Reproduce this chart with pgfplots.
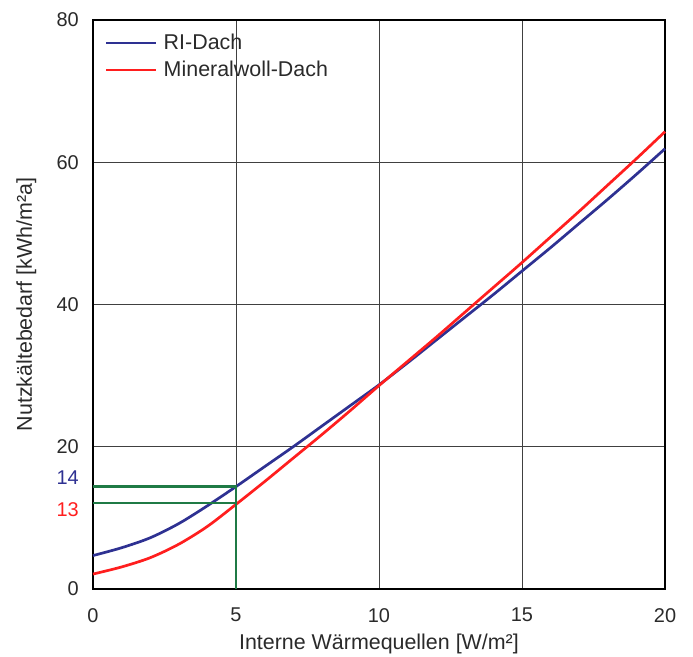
\documentclass[border=0pt]{standalone}
\usepackage{pgfplots}
\pgfplotsset{compat=1.18}
\usepackage{fontspec}
\setmainfont{Liberation Sans}
\definecolor{cblue}{HTML}{2E3192}
\definecolor{cred}{HTML}{FF1E1E}
\definecolor{cgreen}{HTML}{1F7A45}
\definecolor{ctext}{HTML}{2A2A2A}
\begin{document}
\begin{tikzpicture}
\begin{axis}[
  name=ax,
  scale only axis,
  clip=false,
  width=572bp, height=569bp,
  xmin=0, xmax=20, ymin=0, ymax=80,
  xtick={0,5,10,15,20}, ytick={0,20,40,60,80},
  grid=major,
  major grid style={black!75, line width=0.8bp},
  axis line style={black, line width=1.6bp},
  major tick length=0pt,
  tick label style={font=\fontsize{20}{24}\selectfont, text=ctext},
  /pgf/number format/assume math mode=true,
  yticklabel style={inner sep=0pt, xshift=-14bp},
  xticklabel style={inner sep=0pt, yshift=-19bp},
  xlabel={Interne Wärmequellen [W/m²]},
  ylabel={Nutzkältebedarf [kWh/m²a]},
  label style={font=\fontsize{21.5}{24}\selectfont, text=ctext},
  xlabel style={at={(axis description cs:0.5,0)}, anchor=base, yshift=-60bp},
  ylabel style={at={(axis description cs:0,0.5)}, anchor=base, yshift=61bp},
  legend style={draw=none, fill=none, at={(axis description cs:0,1)}, anchor=north west,
    xshift=12bp, yshift=-14bp, inner sep=0pt,
    font=\fontsize{21.5}{24}\selectfont, text=ctext, row sep=10bp,
    nodes={inner sep=0pt}},
  legend cell align=left,
  legend image code/.code={\draw[#1, line width=2.4bp] (0bp,0bp) -- (50bp,0bp); \path (56bp,0bp);},
]
\addplot[cblue, line width=2.7bp, smooth] coordinates {
(0,4.7)(1,5.8)(2,7.2)(3,9.2)(4,11.7)(5,14.4)(6,17.2)(7,20.0)(8,22.9)(9,25.8)(10,28.7)
(11,31.8)(12,35.0)(13,38.2)(14,41.4)(15,44.7)(16,48.0)(17,51.4)(18,54.8)(19,58.3)(20,61.9)};
\addlegendentry{RI-Dach}
\addplot[cred, line width=2.7bp, smooth] coordinates {
(0,2.1)(1,3.1)(2,4.4)(3,6.3)(4,8.8)(5,11.9)(6,15.1)(7,18.4)(8,21.7)(9,25.1)(10,28.6)
(11,32.0)(12,35.4)(13,38.9)(14,42.4)(15,45.9)(16,49.5)(17,53.1)(18,56.8)(19,60.5)(20,64.3)};
\addlegendentry{Mineralwoll-Dach}
\addplot[cgreen, line width=2.6bp, forget plot] coordinates {(0,14.4)(5,14.4)(5,0)};
\addplot[cgreen, line width=2.6bp, forget plot] coordinates {(0,12.1)(5,12.1)};
\node[anchor=east, inner sep=0pt, text=cblue, font=\fontsize{20}{24}\selectfont, xshift=-14bp] at (axis cs:0,15.6) {14};
\node[anchor=east, inner sep=0pt, text=cred, font=\fontsize{20}{24}\selectfont, xshift=-14bp] at (axis cs:0,11.1) {13};
\end{axis}
\pgfresetboundingbox
\path ([shift={(-93bp,-68bp)}]ax.south west) rectangle ([shift={(28bp,20bp)}]ax.north east);
\end{tikzpicture}
\end{document}
